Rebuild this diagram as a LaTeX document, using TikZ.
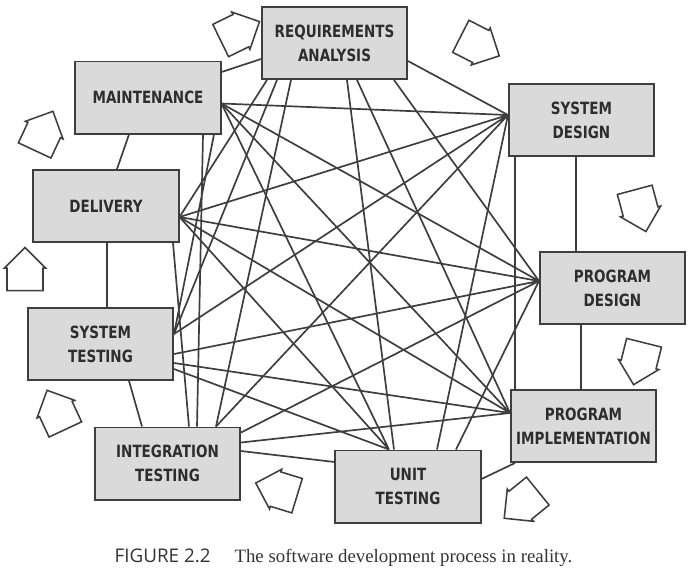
\documentclass[tikz,border=0pt]{standalone}
\usepackage{fontspec}
\setmainfont{Liberation Serif}
\newfontfamily\boxfont{DejaVu Sans}[FakeStretch=0.8]
\newfontfamily\capfont{Open Sans}
\usetikzlibrary{calc,shapes.arrows}
\definecolor{boxgray}{RGB}{218,218,218}
\definecolor{inkgray}{RGB}{62,62,62}
\definecolor{lettergray}{RGB}{45,45,45}

\begin{document}
\begin{tikzpicture}[
  x=0.025cm, y=-0.025cm,
  box/.style={draw=inkgray, line width=1.4pt, fill=boxgray, minimum width=3.625cm, minimum height=1.8cm, inner sep=0pt, align=center, text=lettergray, font={\boxfont\bfseries\fontsize{12}{17}\selectfont}},
  link/.style={draw=inkgray, line width=1.2pt},
  cyclearrow/.style={single arrow, draw=inkgray, line width=1.1pt, fill=white, minimum height=1.08cm, inner xsep=0pt, inner ysep=0.43cm, single arrow head extend=0.07cm},
]
\useasboundingbox (0,0) rectangle (700,575);

\node[box] (req) at (334.5,43) {REQUIREMENTS\\ANALYSIS};
\node[box] (sysd) at (581.5,120) {SYSTEM\\DESIGN};
\node[box] (progd) at (612.5,288) {PROGRAM\\DESIGN};
\node[box] (impl) at (583.5,426) {PROGRAM\\IMPLEMENTATION};
\node[box] (unit) at (408,486.5) {UNIT\\TESTING};
\node[box] (integ) at (167.5,463.5) {INTEGRATION\\TESTING};
\node[box] (syst) at (100.5,344) {SYSTEM\\TESTING};
\node[box] (deliv) at (106,206) {DELIVERY};
\node[box] (maint) at (148,97.5) {MAINTENANCE};

\coordinate (sysd-hub) at ($(sysd.west)+(0,-5)$);
\coordinate (progd-hub) at ($(progd.west)+(0,-7)$);
\coordinate (impl-hub) at ($(impl.west)+(0,-13)$);
\coordinate (deliv-hub) at ($(deliv.east)+(0,11)$);
\coordinate (maint-hub) at ($(maint.east)+(0,6)$);
\coordinate (r1) at ($(req.south west)+(6,0)$);
\coordinate (r2) at ($(req.south west)+(16,0)$);
\coordinate (r3) at ($(req.south west)+(30,0)$);
\coordinate (r4) at ($(req.south west)+(86,0)$);
\coordinate (r5) at ($(req.south west)+(96,0)$);
\coordinate (r6) at ($(req.south west)+(133,0)$);
\coordinate (s1) at ($(syst.north east)+(0,27)$);
\coordinate (s2) at ($(syst.north east)+(0,47)$);
\coordinate (s3) at ($(syst.north east)+(0,56)$);
\coordinate (s4) at ($(syst.north east)+(0,62)$);
\coordinate (i1) at ($(integ.north west)+(95,0)$);
\coordinate (i2) at ($(integ.north west)+(103,0)$);
\coordinate (i3) at ($(integ.north west)+(122,0)$);
\coordinate (i4) at ($(integ.north east)+(0,6)$);
\coordinate (i5) at ($(integ.north east)+(0,16)$);
\coordinate (u1) at ($(unit.north west)+(54.5,0)$);
\coordinate (u2) at ($(unit.north west)+(59.5,0)$);
\coordinate (u3) at ($(unit.north west)+(102.5,0)$);
\coordinate (u4) at ($(unit.north west)+(121.5,0)$);
\coordinate (m1) at ($(maint.south east)+(-18.5,0)$);
\coordinate (m2) at ($(maint.south east)+(-7.5,0)$);
\coordinate (d1) at ($(deliv.south east)+(-6.5,0)$);

\draw[link] (r1) -- (deliv-hub) (r2) -- (s1) (r3) -- (i3) (r4) -- (u2) (r5) -- (impl-hub) (r6) -- (progd-hub);
\draw[link] (sysd-hub) -- (maint-hub) (sysd-hub) -- (deliv-hub) (sysd-hub) -- (s1) (sysd-hub) -- (i3) (sysd-hub) -- (u3);
\draw[link] (progd-hub) -- (maint-hub) (progd-hub) -- (deliv-hub) (progd-hub) -- (s2) (progd-hub) -- (i4) (progd-hub) -- (u4);
\draw[link] (impl-hub) -- (maint-hub) (impl-hub) -- (deliv-hub) (impl-hub) -- (s3) (impl-hub) -- (i5);
\draw[link] (u1) -- (maint-hub) (u1) -- (deliv-hub) (u1) -- (s4);
\draw[link] (i2) -- (m1) (i1) -- (d1) (s1) -- (m2);
\draw[link] ($(sysd.south west)+(7,0)$) coordinate (v1) -- (v1 |- impl.north);

\draw[link] ($(maint.north east)+(0,11.5)$) -- ($(req.north west)+(0,53)$);
\draw[link] ($(req.north east)+(0,55)$) -- (sysd-hub);
\draw[link] ($(sysd.south)+(-5.5,0)$) coordinate (v2) -- (v2 |- progd.north);
\draw[link] ($(progd.south west)+(42,0)$) coordinate (v3) -- (v3 |- impl.north);
\draw[link] ($(impl.south west)+(5,0)$) -- ($(unit.north east)+(0,29.5)$);
\draw[link] ($(unit.north west)+(0,12.5)$) -- ($(integ.north east)+(0,24.5)$);
\draw[link] ($(integ.north west)+(48,0)$) -- ($(syst.south west)+(102,0)$);
\draw[link] ($(syst.north)+(6.5,0)$) coordinate (v4) -- (v4 |- deliv.south);
\draw[link] ($(deliv.north west)+(84.5,0)$) -- ($(maint.south west)+(54.5,0)$);

\node[cyclearrow, rotate=26] (a1) at (232,35) {};
\node[cyclearrow, rotate=-27] (a2) at (472,42) {};
\node[cyclearrow, rotate=-75] (a3) at (638,202) {};
\node[cyclearrow, rotate=-104] (a4) at (641,355) {};
\node[cyclearrow, rotate=-141] (a5) at (528,499) {};
\node[cyclearrow, rotate=163] (a6) at (285,492) {};
\node[cyclearrow, rotate=115] (a7) at (60,418) {};
\node[cyclearrow, rotate=90] (a8) at (25,278) {};
\node[cyclearrow, rotate=65] (a9) at (40,139) {};

\node[font=\fontsize{13.4}{16}\selectfont, text=black!80] (caption) at (343.5,558) {{\capfont FIGURE 2.2}\hspace{17pt}The software development process in reality.};
\end{tikzpicture}
\end{document}
